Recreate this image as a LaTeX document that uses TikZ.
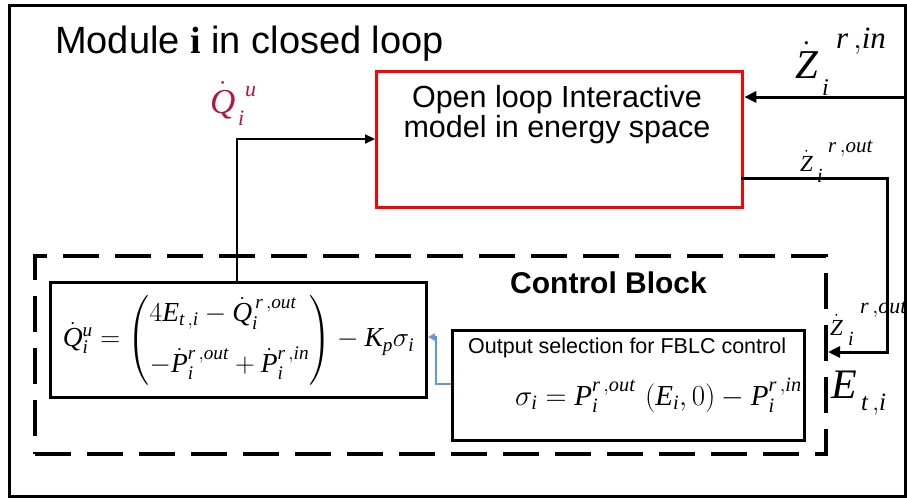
\RequirePackage{fix-cm}
\documentclass[tikz,border=0pt]{standalone}
\usepackage{amsmath}
\usepackage{fontspec}
\setmainfont{Liberation Sans}
\newfontfamily\serifrm[NFSSFamily=libserif]{Liberation Serif}
% Times-like italic letters in math, Greek and punctuation from Computer Modern
\DeclareSymbolFont{cmletters}{OML}{cmm}{m}{it}
\DeclareSymbolFont{letters}{TU}{libserif}{m}{it}
\DeclareMathSymbol{\sigma}{\mathord}{cmletters}{"1B}
\DeclareMathSymbol{,}{\mathpunct}{cmletters}{"3B}
\usetikzlibrary{arrows.meta}
\definecolor{labelred}{RGB}{176,24,64}
\definecolor{modelred}{RGB}{255,0,0}
\definecolor{linkblue}{RGB}{91,155,213}
\newcommand\fs[1]{\fontsize{#1}{#1}\selectfont}
% spaced comma used in the superscripts
\newcommand\cm{\,{,}}

\begin{document}
\begin{tikzpicture}[x=1pt,y=-1pt,
  txt/.style={inner sep=0pt, anchor=base west},
  boxed/.style={draw=black, line width=3pt, inner sep=0pt},
  flow/.style={draw=black, line width=3pt, -{Triangle[length=12pt,width=11pt]}},
  thinflow/.style={draw=black, line width=2.2pt, -{Triangle[length=10pt,width=9pt]}},
  bluelink/.style={draw=linkblue, line width=2.2pt, -{Triangle[length=7pt,width=7pt]}},
  dashbox/.style={draw=black, line width=4pt, dash pattern=on 36pt off 16pt},
  mathlbl/.style={inner sep=0pt, anchor=base west}
]
\useasboundingbox (0,0) rectangle (907,498);

\node[txt, font=\fontsize{38}{44}\selectfont] (title) at (55,53)
  {Module {\serifrm\bfseries i} in closed loop};

% open-loop model
\node[draw=modelred, line width=3.3pt, inner sep=0pt, anchor=north west,
      minimum width=366pt, minimum height=136pt] (model) at (375,70) {};
\node[inner sep=0pt, anchor=base, font=\fontsize{30.5}{36}\selectfont] (modelA) at (557,107) {Open loop Interactive};
\node[inner sep=0pt, anchor=base, font=\fontsize{30.5}{36}\selectfont] (modelB) at (557,137) {model in energy space};

% control block (dashed)
\node[dashbox, inner sep=0pt, anchor=north west, minimum width=791pt, minimum height=198pt] (ctrl) at (33,254) {};
\node[txt, font=\fontsize{30}{36}\selectfont\bfseries] (ctrltitle) at (510,293) {Control Block};

% control law
\node[boxed, anchor=north west, minimum width=376pt, minimum height=115pt,
      font=\fontsize{27.5}{33}\selectfont] (eq) at (49,281)
  {$\dot{Q}_i^{u}=\left(\begin{array}{@{}l@{}}4E_{t\cm i}-\dot{Q}_i^{\,r\cm out}\\[15pt] -\dot{P}_i^{r\cm out}+\dot{P}_i^{r\cm in}\end{array}\right)-K_p\sigma_i$};

% output selection
\node[boxed, anchor=north west, minimum width=352pt, minimum height=110pt] (sel) at (451,329) {};
\node[txt, font=\fontsize{21.5}{26}\selectfont] (seltitle) at (468,353) {Output selection for FBLC control};
\node[txt, font=\fontsize{29}{33}\selectfont] (seleq) at (515,405)
  {$\sigma_i=P_i^{r\cm out}\,\left(E_i{,}\,0\right)-P_i^{r\cm in}$};

% signal labels (symbol, subscript, superscript)
\node[mathlbl, text=labelred, font=\fs{35}] (qu) at (210,113) {$\dot{Q}$};
\node[mathlbl, text=labelred, font=\fs{22}] (qu-sub) at (238,125) {$i$};
\node[mathlbl, text=labelred, font=\fs{22}] (qu-sup) at (245,96) {$u$};

\node[mathlbl, font=\fs{41}] (zin) at (795,78) {$\dot{Z}$};
\node[mathlbl, font=\fs{24}] (zin-sub) at (822,95) {$i$};
\node[mathlbl, font=\fs{31}] (zin-sup) at (836,48) {$r\cm in$};

\node[mathlbl, font=\fs{23}] (zout) at (800,171) {$\dot{Z}$};
\node[mathlbl, font=\fs{20}] (zout-sub) at (817,182) {$i$};
\node[mathlbl, font=\fs{21}] (zout-sup) at (828,152) {$r\cm out$};

\node[mathlbl, font=\fs{23}] (zoutB) at (830,335) {$\dot{Z}$};
\node[mathlbl, font=\fs{20}] (zoutB-sub) at (848,345) {$i$};
\node[mathlbl, font=\fs{22}] (zoutB-sup) at (860,313) {$r\cm out$};

\node[mathlbl, font=\fs{42}] (et) at (831,398) {$E$};
\node[mathlbl, font=\fs{25}] (et-sub) at (861,410) {$t\cm i$};

% connectors
\coordinate (quturn) at (237,139);
\draw[thinflow] (eq.north -| quturn) |- (model.west |- quturn);

\coordinate (zinsrc) at (905,97);
\draw[flow] (zinsrc) -- (model.east |- zinsrc);

\coordinate (zoutsrc) at (741,178);
\coordinate (zoutdown) at (887,178);
\coordinate (zoutturn) at (887,352);
\draw[flow] (zoutsrc) -- (zoutdown) -- (zoutturn) -- (ctrl.east |- zoutturn);

\coordinate (bluesrc) at (451,384);
\coordinate (blueturn) at (436,337);
\draw[bluelink] (bluesrc) -| (blueturn) -- (eq.east |- blueturn);

% outer frame of the module
\draw[line width=3pt] (9,5) rectangle (905,496);
\end{tikzpicture}
\end{document}
